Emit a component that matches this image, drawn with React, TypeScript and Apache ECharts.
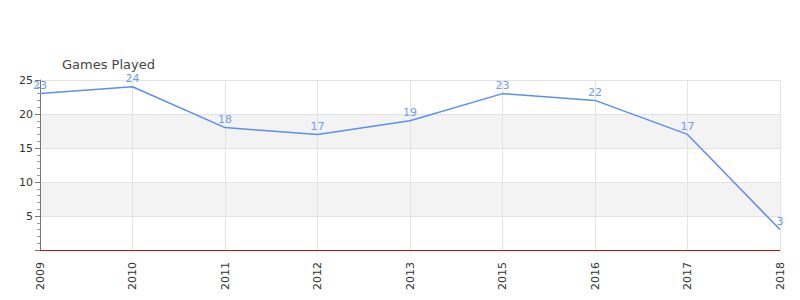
import React, { useEffect, useRef } from "react";
import * as echarts from "echarts";

const years = ["2009", "2010", "2011", "2012", "2013", "2015", "2016", "2017", "2018"];
const gamesPlayed = [23, 24, 18, 17, 19, 23, 22, 17, 3];
const chartTitle = "Games Played";

export default function App() {
  const ref = useRef<HTMLDivElement>(null);
  useEffect(() => {
    document.body.style.margin = "0";
    const chart = echarts.init(ref.current!, null, { renderer: "svg" });
    chart.setOption({
      animation: false,
      title: {
        text: chartTitle,
        left: 57,
        top: 52,
        textStyle: { fontSize: 13, lineHeight: 14, fontWeight: "normal", color: "#444", fontFamily: "DejaVu Sans" },
      },
      grid: { left: 40, right: 20, top: 80, bottom: 50 },
      xAxis: {
        type: "category",
        data: years,
        boundaryGap: false,
        offset: 1,
        axisLine: { lineStyle: { color: "#555", width: 1 } },
        axisTick: { show: false },
        axisLabel: { rotate: 90, fontSize: 11, color: "#333", fontFamily: "DejaVu Sans", margin: 11 },
        splitLine: { show: true, lineStyle: { color: "#e3e3e3" } },
      },
      yAxis: {
        type: "value",
        min: 0,
        max: 25,
        interval: 5,
        axisLine: { show: true, lineStyle: { color: "#777" } },
        axisTick: { show: true, length: 5, lineStyle: { color: "#777" } },
        minorTick: { show: true, splitNumber: 5, length: 3, lineStyle: { color: "#999" } },
        axisLabel: {
          fontSize: 11,
          color: "#333",
          fontFamily: "DejaVu Sans",
          margin: 7,
          showMinLabel: false,
        },
        splitLine: { show: true, lineStyle: { color: "#e3e3e3" } },
        splitArea: { show: true, areaStyle: { color: ["#ffffff", "#f3f3f3"] } },
      },
      series: [
        {
          type: "line",
          data: gamesPlayed,
          symbol: "circle",
          symbolSize: 1,
          showSymbol: true,
          itemStyle: { color: "rgba(0,0,0,0)" },
          lineStyle: { color: "#5b8ff0", width: 1.5 },
          label: {
            show: true,
            position: "top",
            color: "#6f9cf0",
            fontSize: 11,
            lineHeight: 11,
            fontFamily: "DejaVu Sans",
            distance: 2,
          },
          labelLayout: { hideOverlap: false },
          markLine: {
            silent: true,
            symbol: "none",
            label: { show: false },
            lineStyle: { color: "#d01010", type: "solid", width: 1 },
            data: [{ yAxis: 0 }],
          },
        },
      ],
    });
    return () => chart.dispose();
  }, []);
  return <div ref={ref} style={{ width: 800, height: 300 }} />;
}
